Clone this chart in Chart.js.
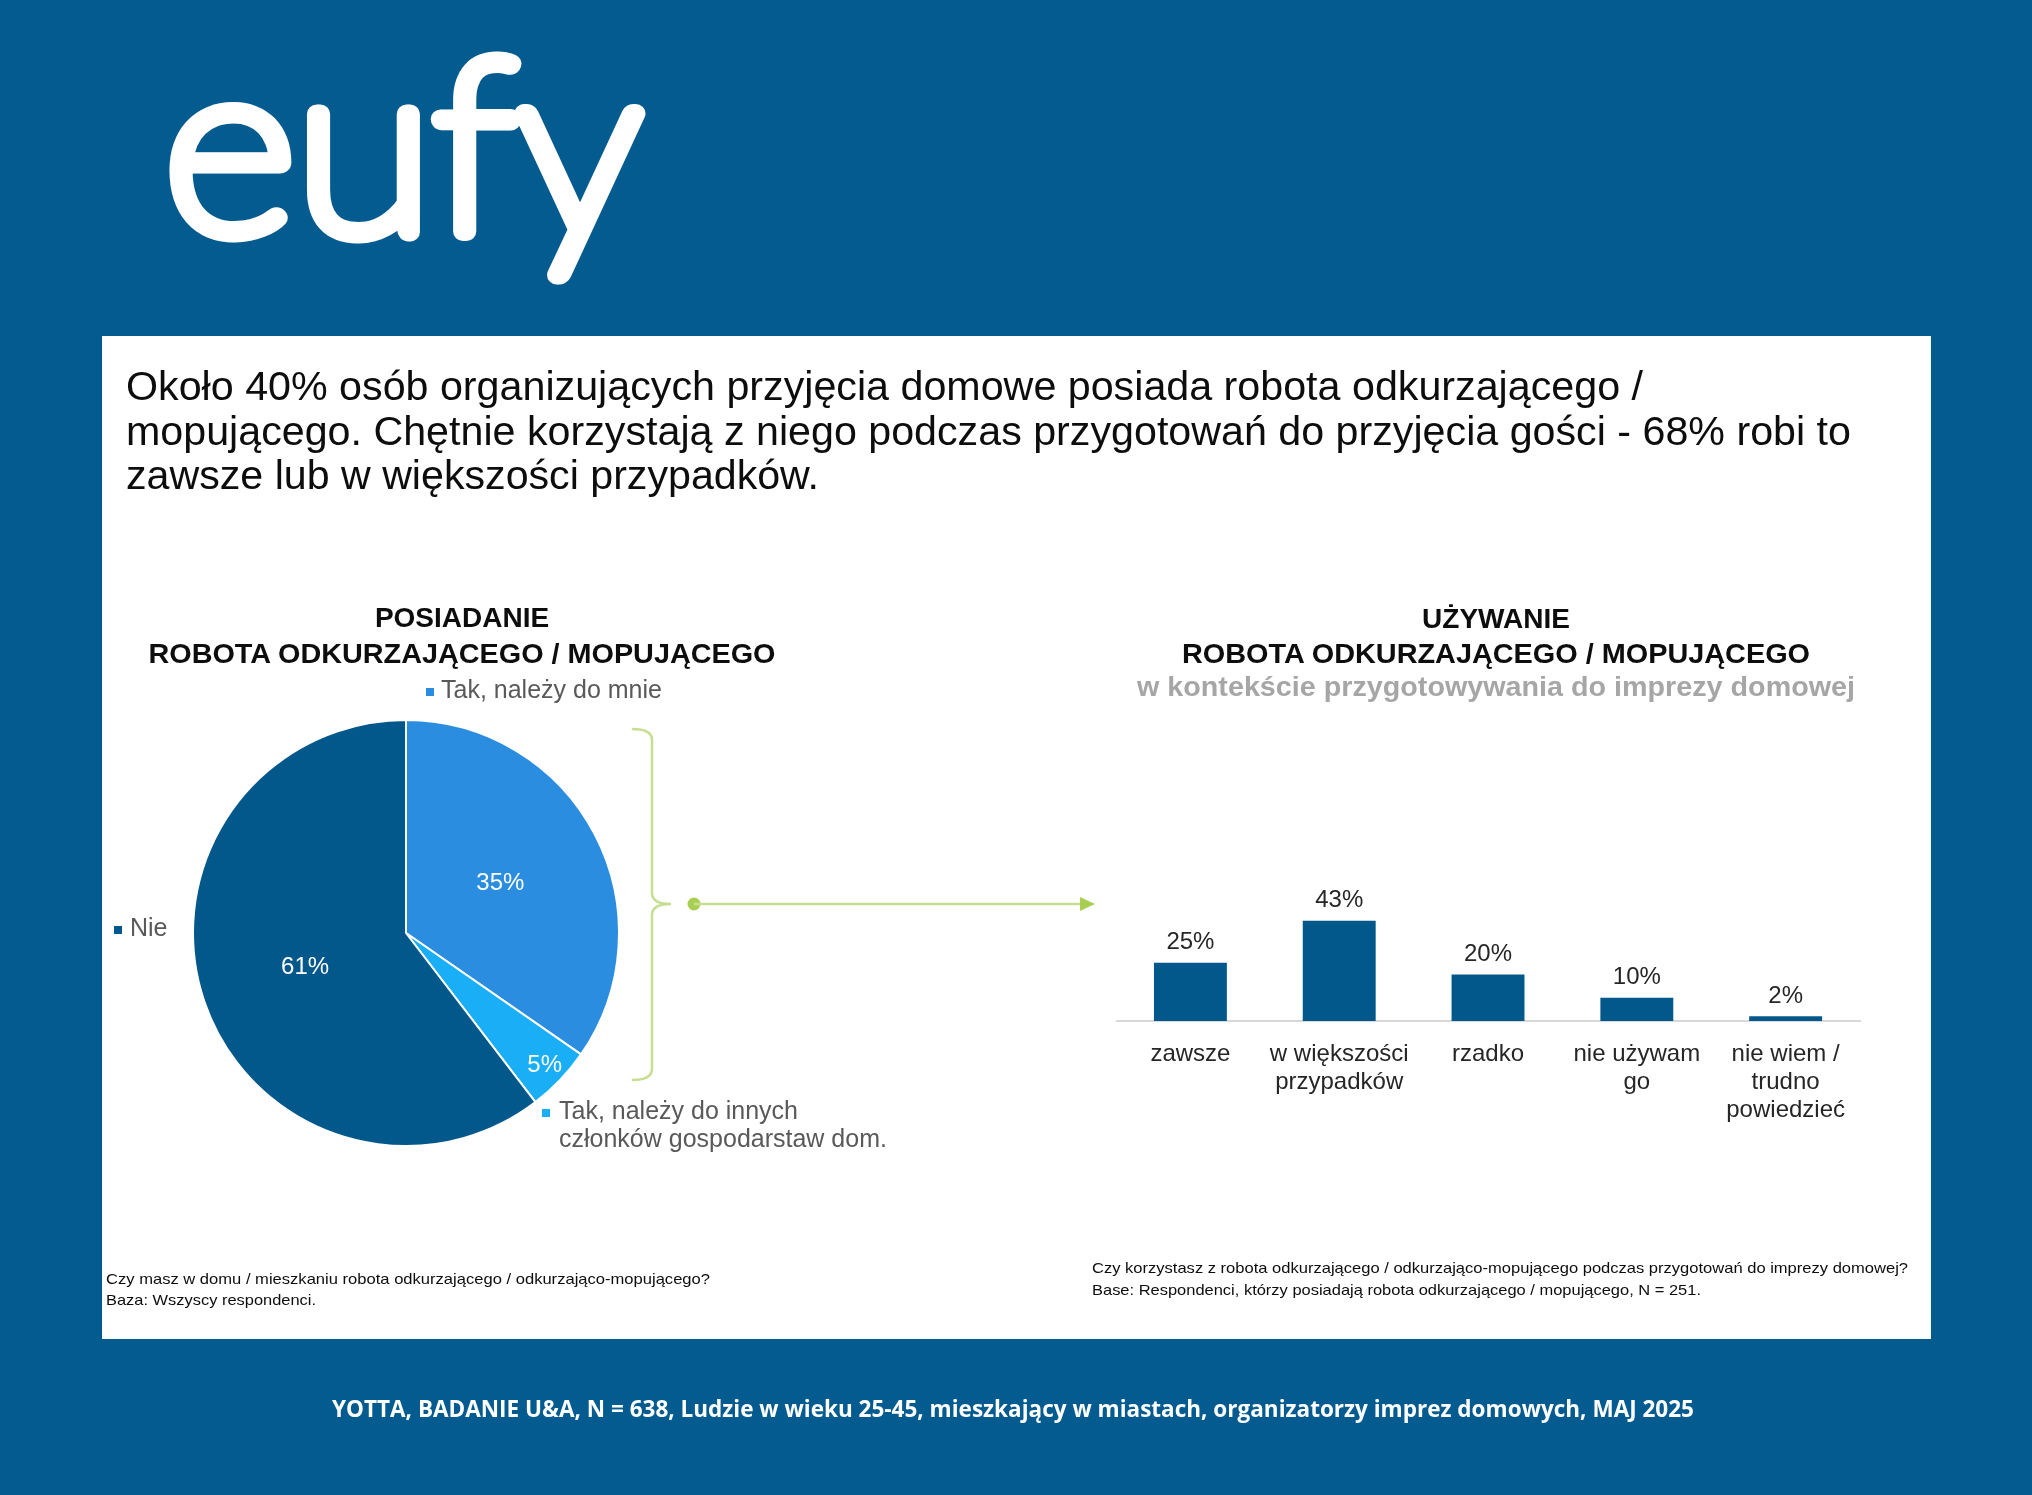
<!DOCTYPE html>
<html>
<head>
<meta charset="utf-8">
<script src="https://cdn.jsdelivr.net/npm/chart.js@4.4.1/dist/chart.umd.min.js"></script>
<style>
  html, body { margin: 0; padding: 0; }
  body { width: 2032px; height: 1495px; background: #035b8f; position: relative; overflow: hidden;
         font-family: "Liberation Sans", Arial, sans-serif; }
  #panel { position: absolute; left: 102px; top: 336px; width: 1829px; height: 1003px; background: #ffffff; }
  canvas { position: absolute; }
  #pieCanvas { left: 102px; top: 660px; }
  #barCanvas { left: 1116px; top: 760px; }
  #overlay { position: absolute; left: 0; top: 0; pointer-events: none; }
</style>
</head>
<body>
<div id="panel"></div>
<canvas id="pieCanvas" width="898" height="540"></canvas>
<canvas id="barCanvas" width="748" height="371"></canvas>

<svg id="overlay" width="2032" height="1495" xmlns="http://www.w3.org/2000/svg">
  <!-- logo -->
  <text x="164" y="232" font-family="Lato" font-weight="100" font-size="241" fill="#ffffff"
        stroke="#ffffff" stroke-width="19" stroke-linejoin="round" stroke-linecap="round"
        textLength="478" lengthAdjust="spacingAndGlyphs">eufy</text>

  <!-- headline -->
  <g font-family="Liberation Sans, Arial, sans-serif" font-size="41" fill="#0d0d0d">
    <text x="126" y="400" textLength="1517" lengthAdjust="spacingAndGlyphs">Około 40% osób organizujących przyjęcia domowe posiada robota odkurzającego /</text>
    <text x="126" y="445" textLength="1725" lengthAdjust="spacingAndGlyphs">mopującego. Chętnie korzystają z niego podczas przygotowań do przyjęcia gości - 68% robi to</text>
    <text x="126" y="489" textLength="693" lengthAdjust="spacingAndGlyphs">zawsze lub w większości przypadków.</text>
  </g>

  <!-- section titles -->
  <g font-family="Liberation Sans, Arial, sans-serif" font-size="28" font-weight="bold" fill="#0d0d0d" text-anchor="middle">
    <text x="462" y="627">POSIADANIE</text>
    <text x="462" y="663" textLength="627" lengthAdjust="spacingAndGlyphs">ROBOTA ODKURZAJĄCEGO / MOPUJĄCEGO</text>
    <text x="1496" y="628">UŻYWANIE</text>
    <text x="1496" y="663" textLength="628" lengthAdjust="spacingAndGlyphs">ROBOTA ODKURZAJĄCEGO / MOPUJĄCEGO</text>
    <text x="1496" y="696" fill="#a6a6a6" textLength="718" lengthAdjust="spacingAndGlyphs">w kontekście przygotowywania do imprezy domowej</text>
  </g>

  <!-- bracket and arrow -->
  <path d="M632,729 Q652,729 652,740 L652,893 Q652,904 671,904 Q652,904 652,915 L652,1069 Q652,1080 632,1080"
        fill="none" stroke="#c6de90" stroke-width="2.5"/>
  <circle cx="694" cy="904" r="6.5" fill="#a9cf52"/>
  <line x1="694" y1="904" x2="1084" y2="904" stroke="#c6de90" stroke-width="2.5"/>
  <path d="M1080,897 L1095,904 L1080,911 Z" fill="#a9cf52"/>

  <!-- footnotes -->
  <g font-family="Liberation Sans, Arial, sans-serif" font-size="15" fill="#0d0d0d">
    <text x="106" y="1284" textLength="604" lengthAdjust="spacingAndGlyphs">Czy masz w domu / mieszkaniu robota odkurzającego / odkurzająco-mopującego?</text>
    <text x="106" y="1305" textLength="210" lengthAdjust="spacingAndGlyphs">Baza: Wszyscy respondenci.</text>
    <text x="1092" y="1273" textLength="816" lengthAdjust="spacingAndGlyphs">Czy korzystasz z robota odkurzającego / odkurzająco-mopującego podczas przygotowań do imprezy domowej?</text>
    <text x="1092" y="1295" textLength="609" lengthAdjust="spacingAndGlyphs">Base: Respondenci, którzy posiadają robota odkurzającego / mopującego, N = 251.</text>
  </g>

  <!-- source footer -->
  <text x="1013" y="1417" text-anchor="middle" font-family="Open Sans, sans-serif" font-weight="700" font-size="24"
        fill="#ffffff" textLength="1362" lengthAdjust="spacingAndGlyphs">YOTTA, BADANIE U&amp;A, N = 638, Ludzie w wieku 25-45, mieszkający w miastach, organizatorzy imprez domowych, MAJ 2025</text>
</svg>

<script>
// ---------------- DATA ----------------
const pieLabels = [["Tak, należy do mnie"], ["Tak, należy do innych", "członków gospodarstaw dom."], ["Nie"]];
const pieValues = [35, 5, 61];
const pieColors = ["#2a8de0", "#19aef5", "#02588b"];

const barCategories = ["zawsze", ["w większości", "przypadków"], "rzadko", ["nie używam", "go"], ["nie wiem /", "trudno", "powiedzieć"]];
const barValues = [25, 43, 20, 10, 2];
const barColor = "#02588b";
const yMin = 0;
const yMax = 100;

// ---------------- STYLE ----------------
const FONT = "'Liberation Sans', Arial, sans-serif";
Chart.defaults.font.family = FONT;
Chart.defaults.animation = false;

// legend placement relative to pie centre (cx, cy) and radius r
const legendPlacement = [
  (cx, cy, r) => ({ mx: cx + 24, tx: cx + 35, y: cy - r - 29 }),
  (cx, cy, r) => ({ mx: cx + 140, tx: cx + 153, y: cy + 179 }),
  (cx, cy, r) => ({ mx: cx - 288, tx: cx - 276, y: cy - 4 })
];

const pieDecor = {
  id: 'pieDecor',
  afterDatasetsDraw(chart) {
    const ctx = chart.ctx;
    const meta = chart.getDatasetMeta(0);
    const values = chart.data.datasets[0].data;
    const colors = chart.data.datasets[0].backgroundColor;
    ctx.save();
    // value labels inside slices
    ctx.font = "24px " + FONT;
    ctx.fillStyle = "#ffffff";
    ctx.textAlign = "center";
    ctx.textBaseline = "middle";
    meta.data.forEach((arc, i) => {
      const p = arc.getProps(['x', 'y', 'startAngle', 'endAngle', 'outerRadius'], true);
      const mid = (p.startAngle + p.endAngle) / 2;
      const f = values[i] < 10 ? 0.9 : 0.5;
      ctx.fillText(values[i] + "%", p.x + Math.cos(mid) * p.outerRadius * f, p.y + Math.sin(mid) * p.outerRadius * f);
    });
    // legend items placed round the pie
    const a0 = meta.data[0].getProps(['x', 'y', 'outerRadius'], true);
    ctx.textAlign = "left";
    meta.data.forEach((arc, i) => {
      const pl = legendPlacement[i](a0.x, a0.y, a0.outerRadius);
      ctx.fillStyle = colors[i];
      ctx.fillRect(pl.mx - 4, pl.y - 3, 8, 8);
      ctx.fillStyle = "#595959";
      ctx.font = "25px " + FONT;
      chart.data.labels[i].forEach((line, k) => {
        ctx.fillText(line, pl.tx, pl.y + k * 28);
      });
    });
    ctx.restore();
  }
};

new Chart(document.getElementById('pieCanvas'), {
  type: 'pie',
  data: {
    labels: pieLabels,
    datasets: [{
      data: pieValues,
      backgroundColor: pieColors,
      borderColor: "#ffffff",
      borderWidth: 2
    }]
  },
  options: {
    responsive: false,
    layout: { padding: { left: 90, top: 59, right: 380, bottom: 53 } },
    plugins: { legend: { display: false }, tooltip: { enabled: false } }
  },
  plugins: [pieDecor]
});

const barLabels = {
  id: 'barLabels',
  afterDatasetsDraw(chart) {
    const ctx = chart.ctx;
    const meta = chart.getDatasetMeta(0);
    const values = chart.data.datasets[0].data;
    ctx.save();
    ctx.font = "24px " + FONT;
    ctx.fillStyle = "#262626";
    ctx.textAlign = "center";
    ctx.textBaseline = "middle";
    meta.data.forEach((bar, i) => {
      ctx.fillText(values[i] + "%", bar.x, bar.y - 20);
    });
    ctx.restore();
  }
};

new Chart(document.getElementById('barCanvas'), {
  type: 'bar',
  data: {
    labels: barCategories,
    datasets: [{
      data: barValues,
      backgroundColor: barColor,
      barPercentage: 0.49,
      categoryPercentage: 1.0
    }]
  },
  options: {
    responsive: false,
    layout: { padding: { top: 28, left: 0, right: 0, bottom: 0 } },
    plugins: { legend: { display: false }, tooltip: { enabled: false } },
    scales: {
      x: {
        grid: { display: false, drawTicks: false },
        border: { color: "#d9d9d9", width: 2 },
        ticks: { color: "#262626", font: { size: 24, lineHeight: 1.18 }, padding: 19, maxRotation: 0, autoSkip: false },
        afterFit(scale) { scale.height = 110; }
      },
      y: { display: false, min: yMin, max: yMax }
    }
  },
  plugins: [barLabels]
});
</script>
</body>
</html>
